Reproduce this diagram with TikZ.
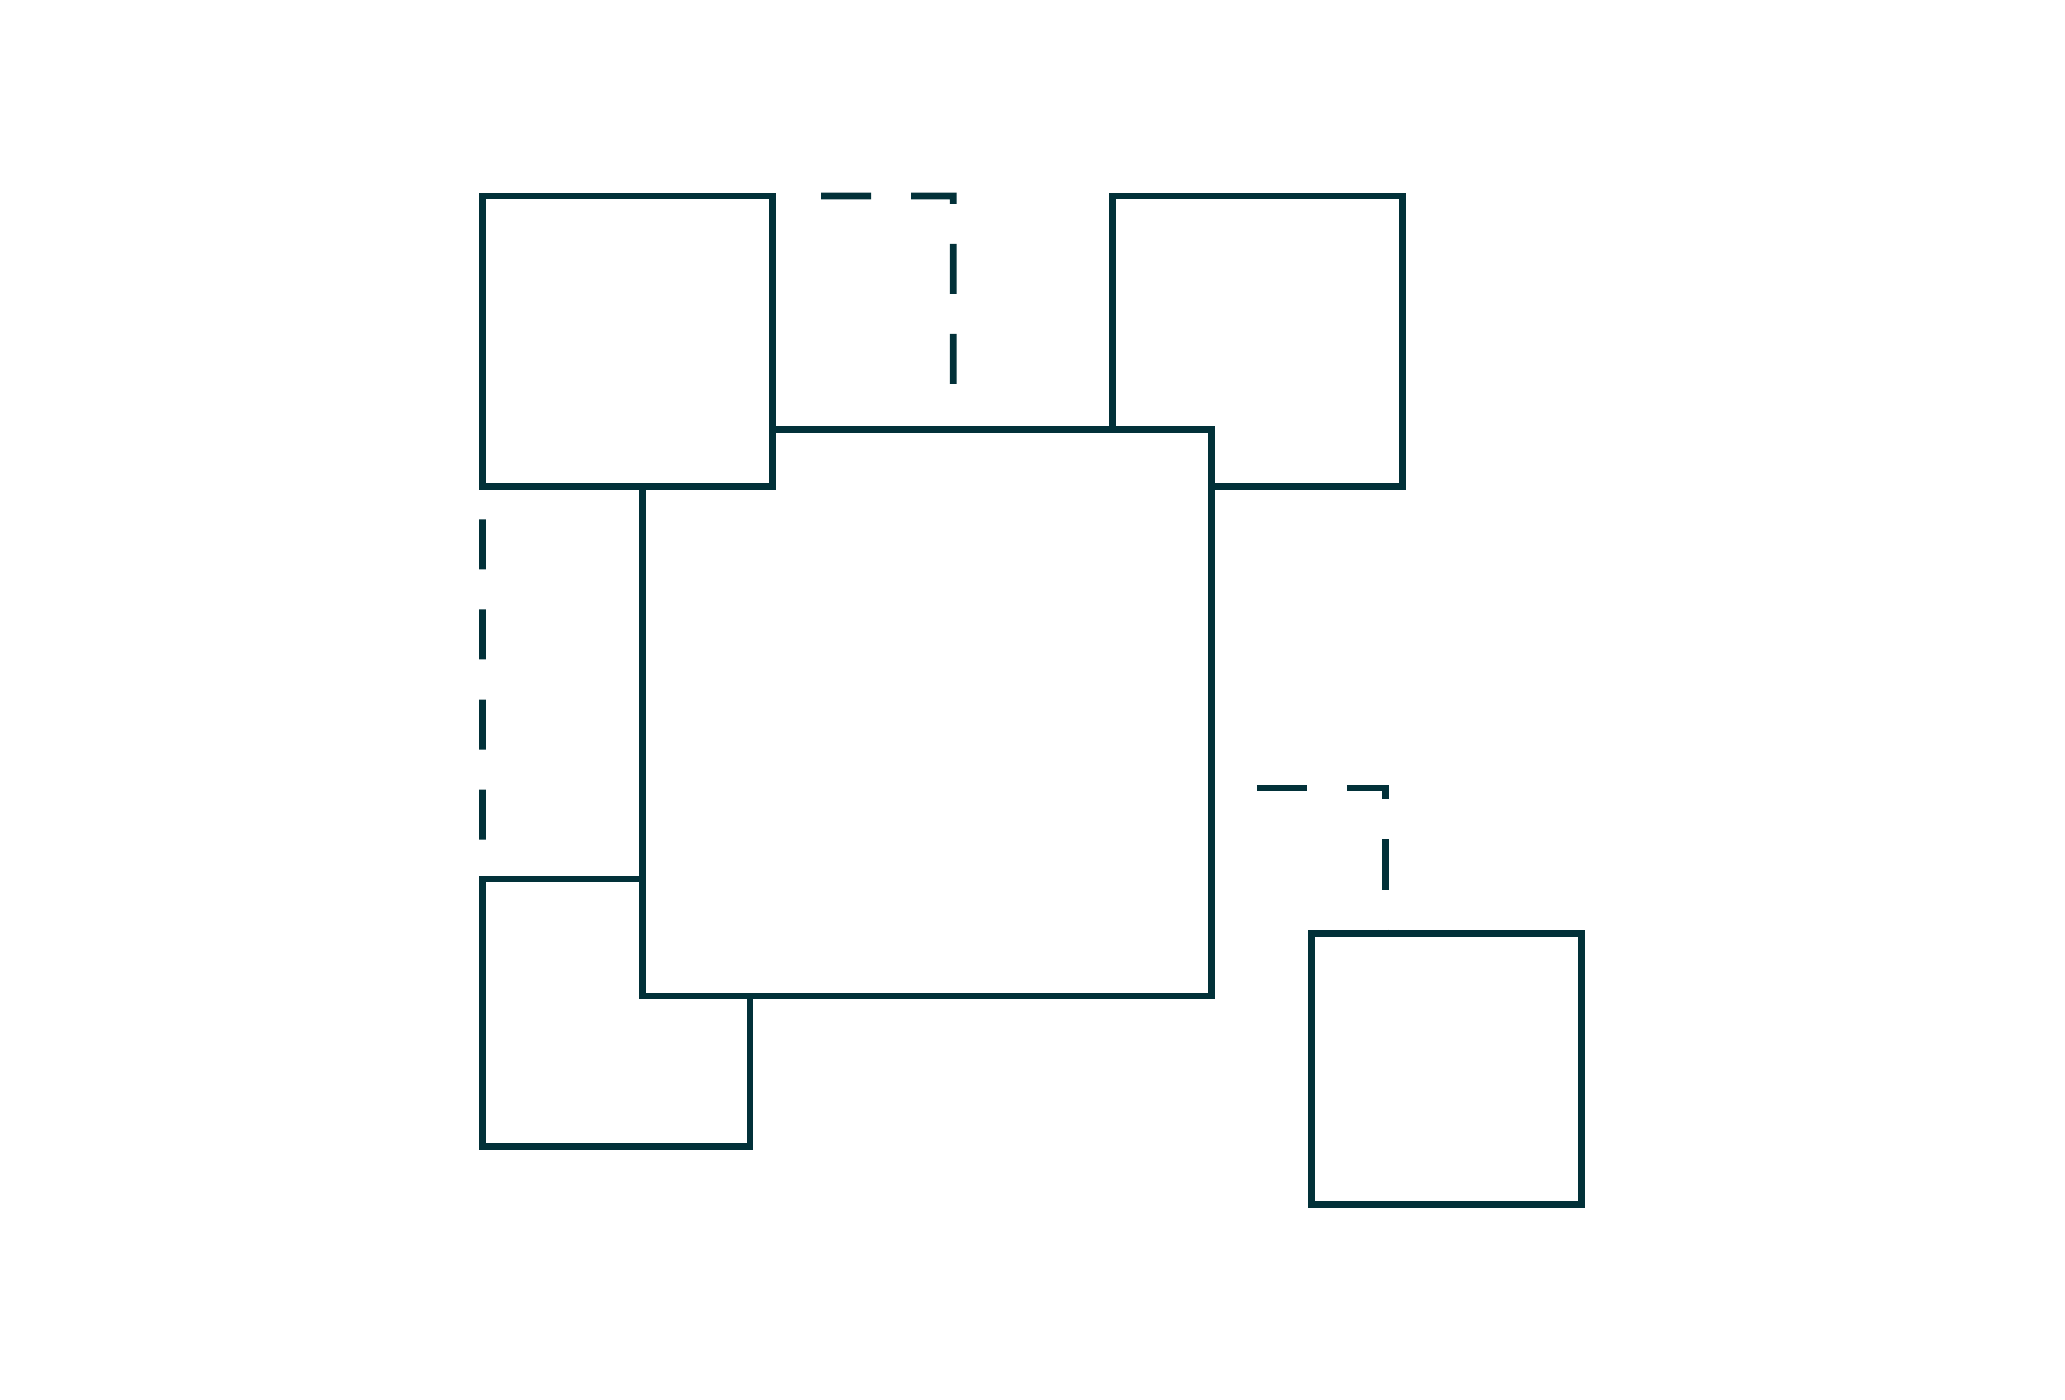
\documentclass[tikz,border=0pt]{standalone}
\definecolor{ink}{HTML}{023139}
\begin{document}
\begin{tikzpicture}
    [x=0.01cm, y=-0.01cm,
    box/.style={draw=ink, fill=white, line width=1.9pt, inner sep=0pt, outer sep=0pt},
    link/.style={draw=ink, line width=1.9pt, dash pattern=on 5mm off 4mm}]
    \useasboundingbox (0,0) rectangle (2065,1400);
    \node[box, minimum width=2.675cm, minimum height=2.677cm] (D) at (616.25,1012.85) {};
    \node[box, minimum width=2.902cm, minimum height=2.903cm] (B) at (1257.6,341.15) {};
    \node[box, minimum width=5.68cm, minimum height=5.657cm] (C) at (927,712.85) {};
    \node[box, minimum width=2.898cm, minimum height=2.907cm] (A) at (627.4,341.35) {};
    \node[box, minimum width=2.704cm, minimum height=2.707cm] (E) at (1446.5,1068.85) {};
    \coordinate (j1) at (953.3,196);
    \coordinate (j3) at (1385.5,788);
    \draw[link, dash phase=5mm, shorten <=0.087cm, shorten >=0.07cm]
      (A.north east) -- (j1) -- (C.north -| j1);
    \draw[link, dash phase=5.74mm] (A.south west) -- (D.north west);
    \draw[link, dash phase=5mm, shorten <=0.057cm]
      (C.east |- j3) -- (j3) -- (E.north -| j3);
\end{tikzpicture}
\end{document}
